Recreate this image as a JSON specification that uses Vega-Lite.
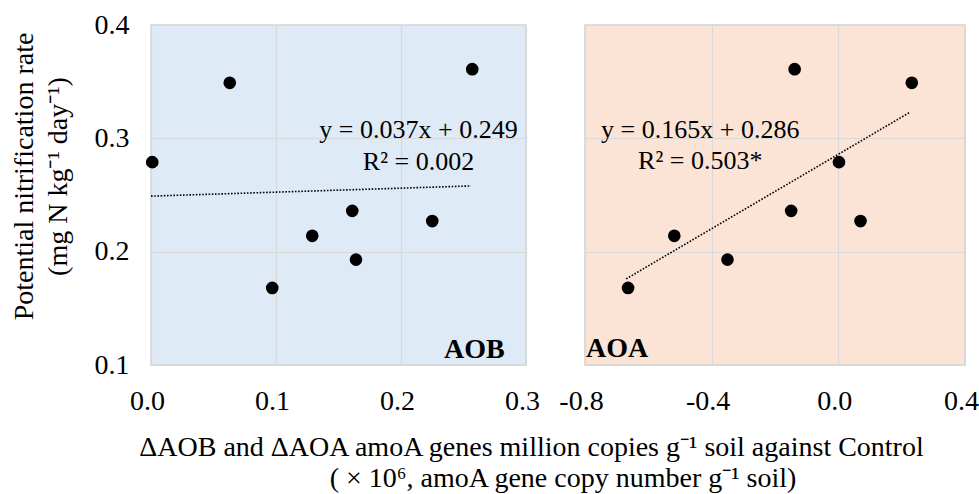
{
  "$schema": "https://vega.github.io/schema/vega-lite/v6.json",
  "padding": {"left": 9, "top": 10, "right": 0, "bottom": 0},
  "bounds": "flush",
  "spacing": 59,
  "background": "white",
  "config": {
    "font": "Liberation Serif",
    "axis": {
      "domain": false,
      "ticks": false,
      "gridColor": "#D9D9D9",
      "gridWidth": 1.2,
      "labelFont": "Liberation Serif",
      "labelFontSize": 28,
      "labelColor": "#000000",
      "labelPadding": 22,
      "titleFont": "Liberation Serif",
      "titleFontSize": 28,
      "titleFontWeight": "normal",
      "titleColor": "#000000"
    },
    "view": {"stroke": "#D4D4D4", "strokeWidth": 1.5}
  },
  "datasets": {
    "aobPoints": [
      {"x": 0.001, "y": 0.279},
      {"x": 0.063, "y": 0.349},
      {"x": 0.097, "y": 0.168},
      {"x": 0.129, "y": 0.214},
      {"x": 0.161, "y": 0.236},
      {"x": 0.164, "y": 0.193},
      {"x": 0.225, "y": 0.227},
      {"x": 0.257, "y": 0.361}
    ],
    "aoaPoints": [
      {"x": -0.664, "y": 0.168},
      {"x": -0.518, "y": 0.214},
      {"x": -0.350, "y": 0.193},
      {"x": -0.149, "y": 0.236},
      {"x": -0.138, "y": 0.361},
      {"x": 0.002, "y": 0.279},
      {"x": 0.070, "y": 0.227},
      {"x": 0.232, "y": 0.349}
    ],
    "aobTrend": [
      {"x": 0.0, "y": 0.249},
      {"x": 0.256, "y": 0.258}
    ],
    "aoaTrend": [
      {"x": -0.670, "y": 0.176},
      {"x": 0.226, "y": 0.323}
    ],
    "aobEq": [
      {"x": 0.214, "y": 0.307, "label": "y = 0.037x + 0.249"},
      {"x": 0.214, "y": 0.279, "label": "R² = 0.002"}
    ],
    "aoaEq": [
      {"x": -0.436, "y": 0.307, "label": "y = 0.165x + 0.286"},
      {"x": -0.436, "y": 0.280, "label": "R² = 0.503*"}
    ],
    "aobTag": [{"x": 0.283, "y": 0.113, "label": "AOB"}],
    "aoaTag": [{"x": -0.797, "y": 0.114, "label": "AOA"}]
  },
  "hconcat": [
    {
      "width": 375,
      "height": 340,
      "view": {"fill": "#DEEAF6", "stroke": "#D4D4D4"},
      "encoding": {
        "x": {
          "field": "x", "type": "quantitative",
          "scale": {"domain": [0, 0.3], "nice": false, "zero": false},
          "axis": {
            "values": [0, 0.1, 0.2, 0.3], "format": ".1f", "labelFlush": false,
            "labelOffset": -4,
            "title": [
              "ΔAOB and ΔAOA amoA genes million copies g⁻¹ soil against Control",
              "\u200b\u00a0\u00a0\u00a0\u00a0\u00a0\u00a0\u00a0\u00a0\u00a0( × 10⁶, amoA gene copy number g⁻¹ soil)"
            ],
            "titleX": 380,
            "titleY": 90,
            "titleAlign": "center",
            "titleBaseline": "alphabetic",
            "titleLineHeight": 31
          }
        },
        "y": {
          "field": "y", "type": "quantitative",
          "scale": {"domain": [0.1, 0.4], "nice": false, "zero": false},
          "axis": {
            "values": [0.1, 0.2, 0.3, 0.4], "format": ".1f",
            "title": ["Potential nitrification rate", "(mg N kg⁻¹ day⁻¹)"],
            "titleLineHeight": 34,
            "titlePadding": 22,
            "titleY": 151,
            "labelFlush": false
          }
        }
      },
      "layer": [
        {
          "data": {"name": "aobTrend"},
          "mark": {"type": "line", "color": "#000000", "strokeWidth": 1.6, "strokeDash": [1.6, 1.6]}
        },
        {
          "data": {"name": "aobPoints"},
          "mark": {"type": "point", "filled": true, "color": "#000000", "opacity": 1, "size": 160}
        },
        {
          "data": {"name": "aobEq"},
          "mark": {"type": "text", "align": "center", "baseline": "middle", "fontSize": 26, "color": "#000000"},
          "encoding": {"text": {"field": "label"}}
        },
        {
          "data": {"name": "aobTag"},
          "mark": {"type": "text", "align": "right", "baseline": "middle", "fontSize": 28, "fontWeight": "bold", "color": "#000000"},
          "encoding": {"text": {"field": "label"}}
        }
      ]
    },
    {
      "width": 380,
      "height": 340,
      "view": {"fill": "#FBE4D6", "stroke": "#D4D4D4"},
      "encoding": {
        "x": {
          "field": "x", "type": "quantitative",
          "scale": {"domain": [-0.8, 0.4], "nice": false, "zero": false},
          "axis": {
            "values": [-0.8, -0.4, 0, 0.4], "format": ".1f", "title": null, "labelFlush": false,
            "labelOffset": -4,
            "labelExpr": "replace(datum.label, '−', '-')"
          }
        },
        "y": {
          "field": "y", "type": "quantitative",
          "scale": {"domain": [0.1, 0.4], "nice": false, "zero": false},
          "axis": {"values": [0.1, 0.2, 0.3, 0.4], "labels": false, "title": null}
        }
      },
      "layer": [
        {
          "data": {"name": "aoaTrend"},
          "mark": {"type": "line", "color": "#000000", "strokeWidth": 1.6, "strokeDash": [1.6, 1.6]}
        },
        {
          "data": {"name": "aoaPoints"},
          "mark": {"type": "point", "filled": true, "color": "#000000", "opacity": 1, "size": 160}
        },
        {
          "data": {"name": "aoaEq"},
          "mark": {"type": "text", "align": "center", "baseline": "middle", "fontSize": 26, "color": "#000000"},
          "encoding": {"text": {"field": "label"}}
        },
        {
          "data": {"name": "aoaTag"},
          "mark": {"type": "text", "align": "left", "baseline": "middle", "fontSize": 28, "fontWeight": "bold", "color": "#000000"},
          "encoding": {"text": {"field": "label"}}
        }
      ]
    }
  ]
}
